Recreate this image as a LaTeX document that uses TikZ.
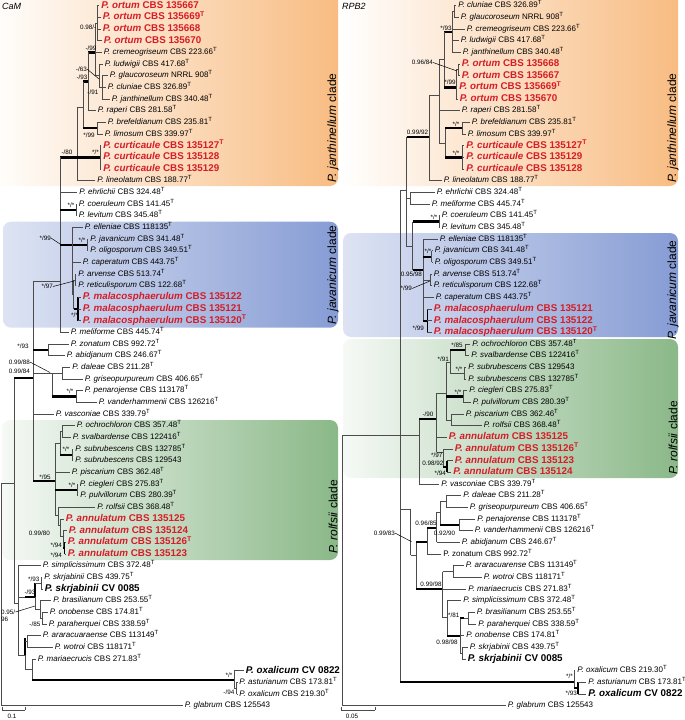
\documentclass[tikz,border=0pt]{standalone}
\usepackage{fontspec}
\setmainfont{Liberation Sans}
\definecolor{labred}{RGB}{214,28,38}
\definecolor{orgC}{RGB}{248,188,130}
\definecolor{bluC}{RGB}{134,156,212}
\definecolor{grnC}{RGB}{138,184,136}
\newcommand\supT{\textsuperscript{T}}
\newcommand\Vl[3]{\draw[tn] (#1,#2) -- (#1,#3);}
\newcommand\Hl[3]{\draw[tn] (#1,#3) -- (#2,#3);}
\newcommand\Hk[3]{\draw[tk] (#1,#3) -- (#2,#3);}
\newcommand\Lf[6]{\node[#1] (#2) at (#4,#5) {#6}; \draw[tn] (#3,#5) -- (#2.west);}
\newcommand\Sp[5]{\node[spt,anchor=#2] (#1) at (#3,#4) {#5};}
\tikzset{
 tn/.style={draw=black!70, line width=0.75pt},
 tk/.style={draw=black, line width=2.2pt},
 tkv/.style={draw=black, line width=1.6pt},
 lr/.style={anchor=west, inner xsep=2.2pt, inner ysep=0pt, font=\fontsize{8}{9}\selectfont, text height=5.8pt, text depth=1.6pt},
 lb/.style={lr, font=\fontsize{9.8}{11}\selectfont\bfseries, text height=7pt, text depth=2pt},
 lred/.style={lb, text=labred},
 spt/.style={inner sep=0pt, font=\fontsize{6.3}{7}\selectfont},
 cl/.style={rotate=90, font=\fontsize{12}{14}\selectfont, inner sep=0pt},
 ttl/.style={anchor=west, inner sep=0pt, font=\fontsize{9}{10}\selectfont\itshape},
 ldr/.style={draw=black, line width=0.5pt},
}
\begin{document}
\begin{tikzpicture}[x=1pt,y=-1pt]
\useasboundingbox (0,0) rectangle (685,720);
% ---------- clade backgrounds
\shade[left color=white, right color=orgC, rounded corners=8pt] (-12,-12) rectangle (338,186);
\shade[left color=bluC!28, right color=bluC, rounded corners=8pt] (3,221.7) rectangle (338,327.7);
\shade[left color=grnC!8, right color=grnC, rounded corners=8pt] (2,420) rectangle (338,560);
\shade[left color=white, right color=orgC, rounded corners=8pt] (340,-12) rectangle (678,186);
\shade[left color=bluC!28, right color=bluC, rounded corners=8pt] (343,233) rectangle (678,337);
\shade[left color=grnC!8, right color=grnC, rounded corners=8pt] (343,339) rectangle (678,478);
\node[cl] (cJL) at (333,128) {\textit{P. janthinellum} clade};
\node[cl] (cVL) at (333,275) {\textit{P. javanicum} clade};
\node[cl] (cRL) at (333,517) {\textit{P. rolfsii} clade};
\node[cl] (cJR) at (673,128) {\textit{P. janthinellum} clade};
\node[cl] (cVR) at (673,290) {\textit{P. javanicum} clade};
\node[cl] (cRR) at (673,438) {\textit{P. rolfsii} clade};
\node[ttl] (tCaM) at (2,6) {CaM};
\node[ttl] (tRPB) at (342,6) {RPB2};
% =================== LEFT TREE (CaM)
\Lf{lred}{l1}{97}{99}{5.7}{\textit{P. ortum} CBS 135667}
\Lf{lred}{l2}{97}{100.5}{17.4}{\textit{P. ortum} CBS 135669\supT}
\Lf{lred}{l3}{97}{100.5}{29.0}{\textit{P. ortum} CBS 135668}
\Lf{lred}{l4}{97}{101.5}{40.7}{\textit{P. ortum} CBS 135670}
\Vl{97}{5.7}{40.7}
\Hl{95}{97}{23.2}
\Vl{95}{23.2}{75.7}
\Lf{lr}{l5}{95}{101.5}{52.4}{\textit{P. cremeogriseum} CBS 223.66\supT}
\Hl{95}{99}{75.7}
\Vl{99}{64}{87.4}
\Lf{lr}{l6}{99}{102.5}{64.0}{\textit{P. ludwigii} CBS 417.68\supT}
\Hl{99}{102}{87.4}
\Vl{102}{75.7}{99}
\Lf{lr}{l7}{102}{107.5}{75.7}{\textit{P. glaucoroseum} NRRL 908\supT}
\Lf{lr}{l8}{102}{105.5}{87.4}{\textit{P. cluniae} CBS 326.89\supT}
\Lf{lr}{l9}{102}{109.5}{99.0}{\textit{P. janthinellum} CBS 340.48\supT}
\Hk{88}{95}{52.4}
\Vl{88}{52.4}{110.7}
\Lf{lr}{l10}{88}{95.5}{110.7}{\textit{P. raperi} CBS 281.58\supT}
\Hk{83}{88}{81.5}
\Vl{83}{81.5}{128.2}
\Hk{83}{97}{128.2}
\Vl{97}{122.4}{134}
\Lf{lr}{l11}{97}{105.5}{122.4}{\textit{P. brefeldianum} CBS 235.81\supT}
\Lf{lr}{l12}{97}{102.5}{134.0}{\textit{P. limosum} CBS 339.97\supT}
\Hl{77}{83}{107}
\Vl{77}{107}{180.7}
\Hk{77}{100}{157.4}
\Vl{100}{145.7}{169}
\Lf{lred}{l13}{100}{101}{145.7}{\textit{P. curticaule} CBS 135127\supT}
\Lf{lred}{l14}{100}{101}{157.4}{\textit{P. curticaule} CBS 135128}
\Lf{lred}{l15}{100}{101}{169.0}{\textit{P. curticaule} CBS 135129}
\Lf{lr}{l16}{77}{95}{180.7}{\textit{P. lineolatum} CBS 188.77\supT}
\Hk{60}{77}{157.4}
\Vl{60}{157.4}{332.4}
\Lf{lr}{l17}{60}{77}{192.4}{\textit{P. ehrlichii} CBS 324.48\supT}
\Hk{60}{76}{209.9}
\Vl{76}{204}{215.7}
\Lf{lr}{l18}{76}{76.5}{204.0}{\textit{P. coeruleum} CBS 141.45\supT}
\Lf{lr}{l19}{76}{76.5}{215.7}{\textit{P. levitum} CBS 345.48\supT}
\Hk{60}{87}{244.9}
\Vl{72}{227.4}{294.5}
\Lf{lr}{l20}{72}{82.5}{227.4}{\textit{P. elleniae} CBS 118135\supT}
\Vl{87}{239}{250.7}
\Lf{lr}{l21}{87}{88}{239.0}{\textit{P. javanicum} CBS 341.48\supT}
\Lf{lr}{l22}{87}{88}{250.7}{\textit{P. oligosporum} CBS 349.51\supT}
\Lf{lr}{l23}{72}{80.5}{262.4}{\textit{P. caperatum} CBS 443.75\supT}
\Hl{72}{73.5}{294.5}
\Vl{73.5}{279.9}{309}
\Hl{73.5}{75}{279.9}
\Vl{75}{274}{285.7}
\Lf{lr}{l24}{75}{76}{274.0}{\textit{P. arvense} CBS 513.74\supT}
\Lf{lr}{l25}{75}{76}{285.7}{\textit{P. reticulisporum} CBS 122.68\supT}
\Hk{73.5}{78}{309}
\draw[tkv] (78,297.4) -- (78,320.7);
\Lf{lred}{l26}{78}{80.5}{297.4}{\textit{P. malacosphaerulum} CBS 135122}
\Lf{lred}{l27}{78}{80.5}{309.0}{\textit{P. malacosphaerulum} CBS 135121}
\Lf{lred}{l28}{78}{80.5}{320.7}{\textit{P. malacosphaerulum} CBS 135120\supT}
\Lf{lr}{l29}{60}{68.5}{332.4}{\textit{P. meliforme} CBS 445.74\supT}
\Hl{33}{60}{281.7}
\Vl{33}{281.7}{481}
\Hk{33}{48}{349.9}
\Vl{48}{344}{355.7}
\Lf{lr}{l30}{48}{68.5}{344.0}{\textit{P. zonatum} CBS 992.72\supT}
\Lf{lr}{l31}{48}{64.5}{355.7}{\textit{P. abidjanum} CBS 246.67\supT}
\Hl{33}{62}{373.2}
\Vl{52}{373.2}{396.5}
\Vl{62}{367.4}{379}
\Lf{lr}{l32}{62}{70}{367.4}{\textit{P. daleae} CBS 211.28\supT}
\Lf{lr}{l33}{62}{82.5}{379.0}{\textit{P. griseopurpureum} CBS 406.65\supT}
\Hk{52}{76}{396.5}
\Vl{76}{390.7}{402.4}
\Lf{lr}{l34}{76}{82.5}{390.7}{\textit{P. penarojense} CBS 113178\supT}
\Lf{lr}{l35}{76}{96.5}{402.4}{\textit{P. vanderhammenii} CBS 126216\supT}
\Lf{lr}{l36}{33}{53.5}{414.0}{\textit{P. vasconiae} CBS 339.79\supT}
\Hk{33}{55}{481}
\Vl{55}{443}{515}
\Hl{55}{60}{443}
\Vl{60}{431.5}{454.9}
\Hl{60}{62}{431.5}
\Vl{62}{425.7}{437.4}
\Lf{lr}{l37}{62}{74.5}{425.7}{\textit{P. ochrochloron} CBS 357.48\supT}
\Lf{lr}{l38}{62}{70.5}{437.4}{\textit{P. svalbardense} CBS 122416\supT}
\Hk{60}{72}{454.9}
\Vl{72}{449}{460.7}
\Lf{lr}{l39}{72}{73}{449.0}{\textit{P. subrubescens} CBS 132785\supT}
\Lf{lr}{l40}{72}{73}{460.7}{\textit{P. subrubescens} CBS 129543}
\Lf{lr}{l41}{55}{69.5}{472.4}{\textit{P. piscarium} CBS 362.48\supT}
\Hk{55}{77}{490.2}
\Vl{77}{484}{495.7}
\Lf{lr}{l42}{77}{77.5}{484.0}{\textit{P. ciegleri} CBS 275.83\supT}
\Lf{lr}{l43}{77}{78}{495.7}{\textit{P. pulvillorum} CBS 280.39\supT}
\Hl{55}{58}{515}
\Vl{58}{507.4}{525}
\Lf{lr}{l44}{58}{95}{507.4}{\textit{P. rolfsii} CBS 368.48\supT}
\Hl{58}{60}{525}
\Vl{60}{519}{536.5}
\Lf{lred}{l45}{60}{63.5}{519.0}{\textit{P. annulatum} CBS 135125}
\Hl{60}{63}{536.5}
\Vl{63}{530.7}{548.2}
\Lf{lred}{l46}{63}{66.5}{530.7}{\textit{P. annulatum} CBS 135124}
\Hk{63}{64.5}{548.2}
\draw[tkv] (64.5,542.4) -- (64.5,554);
\Lf{lred}{l47}{64.5}{65.5}{542.4}{\textit{P. annulatum} CBS 135126\supT}
\Lf{lred}{l48}{64.5}{65.5}{554.0}{\textit{P. annulatum} CBS 135123}
\Hl{14}{18}{603}
\Vl{18}{565.7}{655}
\Lf{lr}{l49}{18}{40.5}{565.7}{\textit{P. simplicissimum} CBS 372.48\supT}
\Hl{18}{25}{597}
\Hk{25}{35}{597}
\Vl{35}{583.2}{609}
\draw[tkv] (35,583.2) -- (35,597);
\Hl{35}{41}{583.2}
\Vl{41}{577.4}{589}
\Lf{lr}{l50}{41}{42}{577.4}{\textit{P. skrjabinii} CBS 439.75\supT}
\Lf{lb}{l51}{41}{42.5}{589.0}{\textit{P. skrjabinii} CV 0085}
\Hl{35}{40}{609}
\Vl{40}{600.7}{618.2}
\Lf{lr}{l52}{40}{51}{600.7}{\textit{P. brasilianum} CBS 253.55\supT}
\Hl{40}{42}{618.2}
\Vl{42}{612.4}{624}
\Lf{lr}{l53}{42}{47.5}{612.4}{\textit{P. onobense} CBS 174.81\supT}
\Lf{lr}{l54}{42}{46.5}{624.0}{\textit{P. paraherquei} CBS 338.59\supT}
\Hl{18}{25}{655}
\Vl{25}{641.5}{669}
\draw[tkv] (25,638) -- (25,655);
\Hl{25}{27}{641.5}
\Vl{27}{635.7}{647.4}
\Lf{lr}{l55}{27}{40.5}{635.7}{\textit{P. araracuaraense} CBS 113149\supT}
\Lf{lr}{l56}{27}{52.5}{647.4}{\textit{P. wotroi} CBS 118171\supT}
\Hl{25}{32}{669}
\Vl{32}{659}{680}
\Lf{lr}{l57}{32}{35.5}{659.0}{\textit{P. mariaecrucis} CBS 271.83\supT}
\Hk{32}{234}{680}
\Vl{234}{670.7}{688.2}
\Lf{lb}{l58}{234}{243.5}{670.7}{\textit{P. oxalicum} CV 0822}
\Hl{234}{236.5}{688.2}
\Vl{236.5}{682.4}{694}
\Lf{lr}{l59}{236.5}{237}{682.4}{\textit{P. asturianum} CBS 173.81\supT}
\Lf{lr}{l60}{236.5}{237}{694.0}{\textit{P. oxalicum} CBS 219.30\supT}
\Hl{1}{14}{483}
\Vl{14}{378}{603}
\Hk{14}{33}{378}
\Vl{1}{483}{705.7}
\Lf{lr}{l61}{1}{182.5}{705.7}{\textit{P. glabrum} CBS 125543}
% left supports
\Sp{s1}{east}{96.5}{27.5}{0.98/-}
\Sp{s2}{center}{91}{48}{-/99}
\Sp{s3}{east}{87}{69}{-/63}
\draw[ldr] (s3.east) -- (99,79);
\Sp{s4}{center}{82}{77}{-/93}
\Sp{s5}{east}{98.5}{92.5}{-/91}
\Sp{s6}{center}{89}{135}{*/99}
\Sp{s7}{center}{95.5}{152}{*/*}
\Sp{s8}{center}{67}{152}{-/80}
\Sp{s9}{center}{71}{205}{*/*}
\Sp{s10}{east}{51}{238}{*/99}
\draw[ldr] (s10.east) -- (60,244);
\Sp{s11}{center}{82}{240}{*/*}
\Sp{s12}{east}{53}{286.5}{*/97}
\draw[ldr] (s12.east) -- (74,281);
\Sp{s13}{center}{74.5}{315}{*/*}
\Sp{s14}{center}{23}{346}{*/93}
\Sp{s15}{east}{30}{362}{0.99/88}
\draw[ldr] (s15.east) -- (50,372.5);
\Sp{s16}{east}{30}{371.5}{0.99/84}
\Sp{s17}{center}{70}{391.5}{*/*}
\Sp{s18}{center}{45}{477}{*/95}
\Sp{s19}{center}{66}{449}{*/*}
\Sp{s20}{center}{72}{485}{*/*}
\Sp{s21}{east}{50}{533}{0.99/80}
\Sp{s22}{east}{62}{545.5}{*/94}
\Sp{s23}{east}{62}{555.5}{*/94}
\Sp{s24}{east}{39.5}{579}{*/93}
\Sp{s25}{center}{30}{592.5}{-/93}
\Sp{s26}{west}{1}{612}{0.95/}
\Sp{s27}{west}{1}{619.5}{96}
\draw[ldr] (s26.east) -- (35,606);
\Sp{s28}{east}{40.5}{624.5}{-/85}
\Sp{s29}{east}{232.5}{675.5}{*/*}
\Sp{s30}{east}{234.5}{692.5}{-/94}
% left scale bar
\coordinate (sbL1) at (2,710); \coordinate (sbL2) at (25,710);
\draw[tn] (sbL1) -- (sbL2);
\draw[tn] (2,707) -- (sbL1); \draw[tn] (25,707) -- (sbL2);
\Sp{sbL}{center}{12}{716.5}{0.1}
% =================== RIGHT TREE (RPB2)
\Vl{454}{5.7}{17.4}
\Lf{lr}{r1}{454}{456}{5.7}{\textit{P. cluniae} CBS 326.89\supT}
\Lf{lr}{r2}{454}{458.5}{17.4}{\textit{P. glaucoroseum} NRRL 908\supT}
\Hl{452}{454}{11.5}
\Vl{452}{11.5}{52.4}
\Lf{lr}{r3}{452}{464.5}{29.0}{\textit{P. cremeogriseum} CBS 223.66\supT}
\Lf{lr}{r4}{452}{458.5}{40.7}{\textit{P. ludwigii} CBS 417.68\supT}
\Lf{lr}{r5}{452}{460.5}{52.4}{\textit{P. janthinellum} CBS 340.48\supT}
\Hk{444}{452}{32}
\Vl{444}{32}{87.4}
\Hk{444}{456}{87.4}
\Vl{456}{69.8}{99}
\Hl{456}{458}{69.8}
\Vl{458}{64}{75.7}
\Lf{lred}{r6}{458}{459.5}{64.0}{\textit{P. ortum} CBS 135668}
\Lf{lred}{r7}{458}{459.5}{75.7}{\textit{P. ortum} CBS 135667}
\Lf{lred}{r8}{456}{457}{87.4}{\textit{P. ortum} CBS 135669\supT}
\Lf{lred}{r9}{456}{457.5}{99.0}{\textit{P. ortum} CBS 135670}
\Hl{439}{444}{59.7}
\Vl{439}{59.7}{143}
\Lf{lr}{r10}{439}{459.5}{110.7}{\textit{P. raperi} CBS 281.58\supT}
\Hl{439}{445}{143}
\Vl{445}{128.2}{157.4}
\Hk{445}{462}{128.2}
\Vl{462}{122.4}{134}
\Lf{lr}{r11}{462}{469.5}{122.4}{\textit{P. brefeldianum} CBS 235.81\supT}
\Lf{lr}{r12}{462}{465.5}{134.0}{\textit{P. limosum} CBS 339.97\supT}
\Hk{445}{462}{157.4}
\Vl{462}{145.7}{169}
\Lf{lred}{r13}{462}{464}{145.7}{\textit{P. curticaule} CBS 135127\supT}
\Lf{lred}{r14}{462}{464}{157.4}{\textit{P. curticaule} CBS 135129}
\Lf{lred}{r15}{462}{464}{169.0}{\textit{P. curticaule} CBS 135128}
\Hl{429}{439}{95}
\Vl{429}{95}{180.7}
\Lf{lr}{r16}{429}{441.5}{180.7}{\textit{P. lineolatum} CBS 188.77\supT}
\Hk{406.7}{429}{136.7}
\Vl{406.7}{136.7}{246.7}
\Hl{400}{406.7}{190}
\Hl{406.7}{410}{198.2}
\Vl{410}{192.4}{204}
\Lf{lr}{r17}{410}{434.5}{192.4}{\textit{P. ehrlichii} CBS 324.48\supT}
\Lf{lr}{r18}{410}{429.5}{204.0}{\textit{P. meliforme} CBS 445.74\supT}
\Hl{406.7}{412.7}{246.7}
\Vl{412.7}{221.5}{270}
\Hk{412.7}{439}{221.5}
\Vl{439}{215.7}{227.4}
\Lf{lr}{r19}{439}{439.5}{215.7}{\textit{P. coeruleum} CBS 141.45\supT}
\Lf{lr}{r20}{439}{439.5}{227.4}{\textit{P. levitum} CBS 345.48\supT}
\Hk{412.7}{423.3}{270}
\Vl{423.3}{239}{320.7}
\Lf{lr}{r21}{423.3}{437.5}{239.0}{\textit{P. elleniae} CBS 118135\supT}
\Hk{423.3}{431.7}{256.8}
\Vl{431.7}{250.7}{262.4}
\Lf{lr}{r22}{431.7}{432.5}{250.7}{\textit{P. javanicum} CBS 341.48\supT}
\Lf{lr}{r23}{431.7}{432.5}{262.4}{\textit{P. oligosporum} CBS 349.51\supT}
\Hl{423.3}{430}{279.9}
\Vl{430}{274}{285.7}
\Lf{lr}{r24}{430}{431.5}{274.0}{\textit{P. arvense} CBS 513.74\supT}
\Lf{lr}{r25}{430}{431.5}{285.7}{\textit{P. reticulisporum} CBS 122.68\supT}
\Lf{lr}{r26}{423.3}{433.5}{297.4}{\textit{P. caperatum} CBS 443.75\supT}
\Hk{423.3}{427.3}{320.7}
\draw[tkv] (427.3,309) -- (427.3,332.4);
\Lf{lred}{r27}{427.3}{431.5}{309.0}{\textit{P. malacosphaerulum} CBS 135121}
\Lf{lred}{r28}{427.3}{431.5}{320.7}{\textit{P. malacosphaerulum} CBS 135122}
\Lf{lred}{r29}{427.3}{431.5}{332.4}{\textit{P. malacosphaerulum} CBS 135120\supT}
\Vl{400}{190}{681.7}
\Hl{400}{419.3}{435}
\Vl{419.3}{419}{484}
\Lf{lr}{r42}{419.3}{439}{484.0}{\textit{P. vasconiae} CBS 339.79\supT}
\Hk{419.3}{436.7}{419}
\Vl{436.7}{393}{452}
\Hl{436.7}{446}{393}
\Vl{446}{361.9}{420}
\Hl{446}{450}{361.9}
\Vl{450}{349.9}{373.2}
\Hk{450}{465}{349.9}
\Vl{465}{344}{355.7}
\Lf{lr}{r30}{465}{470}{344.0}{\textit{P. ochrochloron} CBS 357.48\supT}
\Lf{lr}{r31}{465}{469}{355.7}{\textit{P. svalbardense} CBS 122416\supT}
\Hl{450}{464}{373.2}
\Vl{464}{367.4}{379}
\Lf{lr}{r32}{464}{466}{367.4}{\textit{P. subrubescens} CBS 129543}
\Lf{lr}{r33}{464}{466}{379.0}{\textit{P. subrubescens} CBS 132785\supT}
\Hk{446}{463}{396.5}
\Vl{463}{390.7}{402.4}
\Lf{lr}{r34}{463}{467}{390.7}{\textit{P. ciegleri} CBS 275.83\supT}
\Lf{lr}{r35}{463}{470.5}{402.4}{\textit{P. pulvillorum} CBS 280.39\supT}
\Hl{446}{451.7}{420}
\Vl{451.7}{414}{425.7}
\Lf{lr}{r36}{451.7}{463.5}{414.0}{\textit{P. piscarium} CBS 362.46\supT}
\Lf{lr}{r37}{451.7}{481.5}{425.7}{\textit{P. rolfsii} CBS 368.48\supT}
\Lf{lred}{r38}{436.7}{446.5}{437.4}{\textit{P. annulatum} CBS 135125}
\Hl{436.7}{443}{452}
\Vl{443}{449}{466.7}
\Lf{lred}{r39}{443}{452.5}{449.0}{\textit{P. annulatum} CBS 135126\supT}
\Hk{443}{447}{466.7}
\draw[tkv] (447,460.7) -- (447,472.4);
\Lf{lred}{r40}{447}{452.5}{460.7}{\textit{P. annulatum} CBS 135123}
\Lf{lred}{r41}{447}{451}{472.4}{\textit{P. annulatum} CBS 135124}
\Hl{400}{410.7}{509}
\Vl{410.7}{509}{555}
\Hl{410.7}{416}{555}
\Vl{416}{541.7}{589}
\Hk{416}{427.3}{541.7}
\Vl{427.3}{528.3}{554}
\Lf{lr}{r48}{427.3}{441}{554.0}{P. zonatum CBS 992.72\supT}
\Hk{427.3}{436.7}{528.3}
\Vl{436.7}{512}{542.4}
\Lf{lr}{r47}{436.7}{459.5}{542.4}{\textit{P. abidjanum} CBS 246.67\supT}
\Hl{436.7}{440}{512}
\Vl{440}{501.5}{525}
\Hl{440}{446}{501.5}
\Vl{446}{495.7}{507.4}
\Lf{lr}{r43}{446}{461}{495.7}{\textit{P. daleae} CBS 211.28\supT}
\Lf{lr}{r44}{446}{467.5}{507.4}{\textit{P. griseopurpureum} CBS 406.65\supT}
\Hk{440}{459.3}{525}
\Vl{459.3}{519}{530.7}
\Lf{lr}{r45}{459.3}{475}{519.0}{\textit{P. penajorense} CBS 113178\supT}
\Lf{lr}{r46}{459.3}{472.5}{530.7}{\textit{P. vanderhammenii} CBS 126216\supT}
\Hk{416}{442.7}{589}
\Vl{442.7}{571.5}{617.6}
\Hl{442.7}{453.3}{571.5}
\Vl{453.3}{565.7}{577.4}
\Lf{lr}{r49}{453.3}{463.5}{565.7}{\textit{P. araracuarense} CBS 113149\supT}
\Lf{lr}{r50}{453.3}{481.5}{577.4}{\textit{P. wotroi} CBS 118171\supT}
\Lf{lr}{r51}{442.7}{466}{589.0}{\textit{P. mariaecrucis} CBS 271.83\supT}
\Hl{442.7}{447}{617.6}
\Vl{447}{600.7}{635.7}
\Lf{lr}{r52}{447}{461}{600.7}{\textit{P. simplicissimum} CBS 372.48\supT}
\Hk{447}{460}{635.7}
\Vl{460}{618.2}{653.2}
\Hk{460}{464}{618.2}
\Hl{464}{468.3}{618.2}
\Vl{468.3}{612.4}{624}
\Lf{lr}{r53}{468.3}{474.5}{612.4}{\textit{P. brasilianum} CBS 253.55\supT}
\Lf{lr}{r54}{468.3}{476}{624.0}{\textit{P. paraherquei} CBS 338.59\supT}
\Lf{lr}{r55}{460}{464}{635.7}{\textit{P. onobense} CBS 174.81\supT}
\Hl{460}{462}{653.2}
\Vl{462}{647.4}{659}
\Lf{lr}{r56}{462}{467.5}{647.4}{\textit{P. skrjabinii} CBS 439.75\supT}
\Lf{lb}{r57}{462}{465.5}{659.0}{\textit{P. skrjabinii} CV 0085}
\Hk{400}{574}{681.7}
\Vl{574}{670.7}{688.2}
\Lf{lr}{r58}{574}{575}{670.7}{\textit{P. oxalicum} CBS 219.30\supT}
\Hk{574}{578}{688.2}
\draw[tkv] (578,682.4) -- (578,694);
\Lf{lr}{r59}{578}{586}{682.4}{\textit{P. asturianum} CBS 173.81\supT}
\Lf{lb}{r60}{578}{586}{694.0}{\textit{P. oxalicum} CV 0822}
\Hl{342}{400}{435}
\Vl{342}{435}{705.7}
\Lf{lr}{r61}{342}{505.5}{705.7}{\textit{P. glabrum} CBS 125543}
% right supports
\Sp{t1}{center}{446}{28}{*/93}
\Sp{t2}{east}{433}{62.5}{0.96/84}
\draw[ldr] (t2.east) -- (457,71);
\Sp{t3}{center}{450}{82.5}{*/99}
\Sp{t4}{center}{456}{124}{*/*}
\Sp{t5}{center}{456}{153}{*/*}
\Sp{t6}{center}{417.5}{132.5}{0.99/92}
\Sp{t7}{center}{434}{217}{*/*}
\Sp{t8}{center}{428}{251.5}{*/*}
\Sp{t9}{east}{422}{274.5}{0.95/98}
\Sp{t10}{east}{412}{288.5}{*/99}
\draw[ldr] (t10.east) -- (430,281);
\Sp{t11}{east}{424}{328.5}{*/99}
\Sp{t12}{center}{457}{345.5}{*/85}
\Sp{t13}{east}{449}{359.5}{*/91}
\Sp{t14}{center}{459}{369.5}{*/*}
\Sp{t15}{center}{458}{392}{*/*}
\Sp{t16}{center}{428}{414.5}{-/90}
\Sp{t17}{east}{442.5}{455.5}{*/97}
\Sp{t18}{east}{443.5}{463.5}{0.98/92}
\Sp{t19}{east}{446}{473.5}{*/94}
\Sp{t20}{east}{395}{533}{0.99/83}
\draw[ldr] (t20.east) -- (411.5,541.7);
\Sp{t21}{center}{426}{523}{0.96/85}
\Sp{t22}{center}{444.5}{533}{0.92/90}
\Sp{t23}{center}{431}{584.5}{0.99/98}
\Sp{t24}{east}{459.5}{615}{*/81}
\Sp{t25}{center}{447}{642.5}{0.98/98}
\Sp{t26}{east}{573}{676}{*/*}
\Sp{t27}{east}{577}{693.5}{*/93}
% right scale bar
\coordinate (sbR1) at (341,710); \coordinate (sbR2) at (375,710);
\draw[tn] (sbR1) -- (sbR2);
\draw[tn] (341,707) -- (sbR1); \draw[tn] (375,707) -- (sbR2);
\Sp{sbR}{center}{352}{716.5}{0.05}
\end{tikzpicture}
\end{document}
